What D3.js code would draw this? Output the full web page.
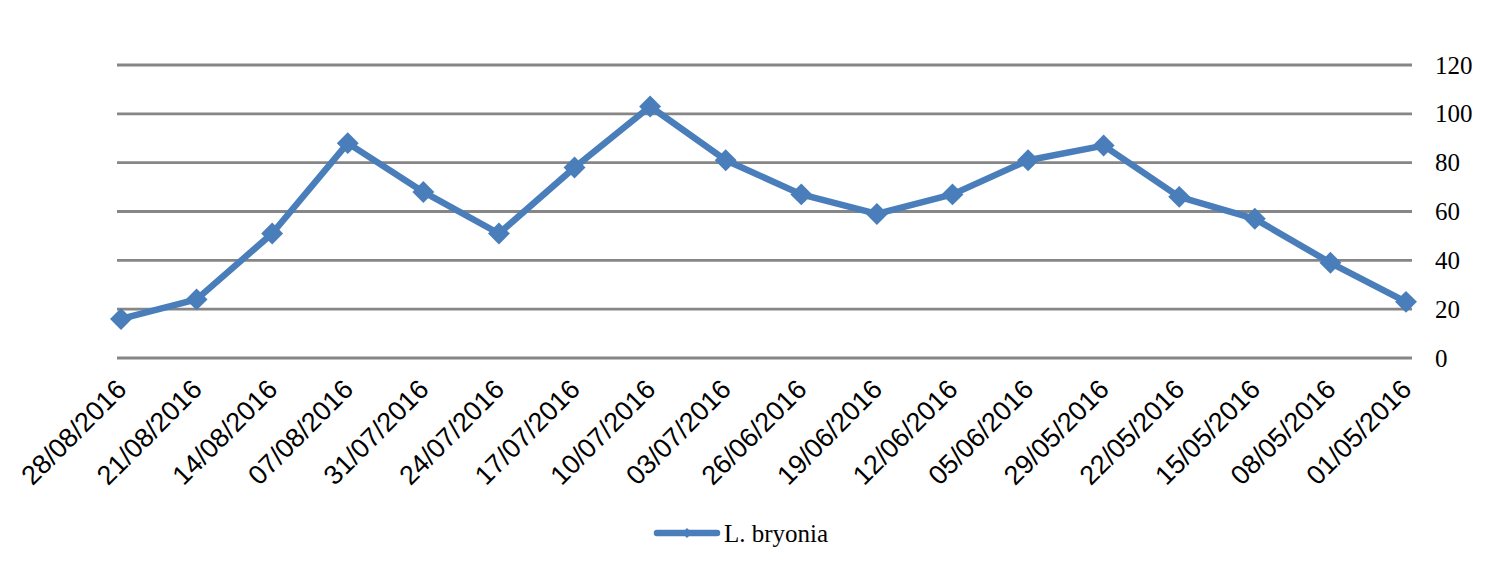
<!DOCTYPE html>
<html>
<head>
<meta charset="utf-8">
<script src="https://cdn.jsdelivr.net/npm/d3@7"></script>
<style>
  html, body { margin: 0; padding: 0; background: #fff; }
  svg { display: block; }
</style>
</head>
<body>
<svg id="chart" width="1509" height="564"></svg>
<script>
const categories = ["28/08/2016","21/08/2016","14/08/2016","07/08/2016","31/07/2016","24/07/2016","17/07/2016","10/07/2016","03/07/2016","26/06/2016","19/06/2016","12/06/2016","05/06/2016","29/05/2016","22/05/2016","15/05/2016","08/05/2016","01/05/2016"];
const values = [16, 24, 51, 88, 68, 51, 78, 103, 81, 67, 59, 67, 81, 87, 66, 57, 39, 23];
const yTicks = [0, 20, 40, 60, 80, 100, 120];
const seriesName = "L. bryonia";

const svg = d3.select("#chart");
const color = "#4a7ebb";
const gridLeft = 117, gridRight = 1412;

const x = d3.scalePoint().domain(categories).range([121, 1406]);
const y = d3.scaleLinear().domain([0, 120]).range([358, 65]);

// gridlines
svg.append("g").selectAll("line").data(yTicks).join("line")
  .attr("x1", gridLeft).attr("x2", gridRight)
  .attr("y1", d => y(d)).attr("y2", d => y(d))
  .attr("stroke", "#868686").attr("stroke-width", 2.8);

// right y axis labels
const yAxis = d3.axisRight(y).tickValues(yTicks).tickSize(0).tickPadding(0);
const gy = svg.append("g").attr("transform", `translate(1435,0)`).call(yAxis);
gy.select(".domain").remove();
gy.selectAll("text")
  .attr("font-family", "'Liberation Serif', serif")
  .attr("font-size", 25).attr("fill", "#000").attr("dy", "0.32em");

// x axis labels
const xAxis = d3.axisBottom(x).tickSize(0).tickPadding(0);
const gx = svg.append("g").call(xAxis);
gx.select(".domain").remove();
gx.selectAll(".tick").attr("transform", d => `translate(${x(d) + 7},391)`);
gx.selectAll("text")
  .attr("font-family", "'Liberation Sans', Arial, sans-serif")
  .attr("font-size", 27).attr("fill", "#000")
  .attr("text-anchor", "end").attr("dy", 0).attr("y", 0)
  .attr("transform", "rotate(-45)");

// line
const line = d3.line().x((d, i) => x(categories[i])).y(d => y(d));
svg.append("path").datum(values)
  .attr("d", line).attr("fill", "none")
  .attr("stroke", color).attr("stroke-width", 6.5)
  .attr("stroke-linejoin", "round");

// markers
const diamond = d3.symbol().type(d3.symbolSquare).size(240);
svg.append("g").selectAll("path").data(values).join("path")
  .attr("d", diamond)
  .attr("transform", (d, i) => `translate(${x(categories[i])},${y(d)}) rotate(45)`)
  .attr("fill", color);

// legend
const lg = svg.append("g");
lg.append("line").attr("x1", 657).attr("x2", 717).attr("y1", 533).attr("y2", 533)
  .attr("stroke", color).attr("stroke-width", 6.5).attr("stroke-linecap", "round");
lg.append("path").attr("d", d3.symbol().type(d3.symbolSquare).size(50))
  .attr("transform", "translate(687,533) rotate(45)").attr("fill", color);
lg.append("text").attr("x", 724).attr("y", 533).attr("dy", "0.35em")
  .attr("font-family", "'Liberation Serif', serif").attr("font-size", 25)
  .attr("fill", "#000").text(seriesName);
</script>
</body>
</html>
